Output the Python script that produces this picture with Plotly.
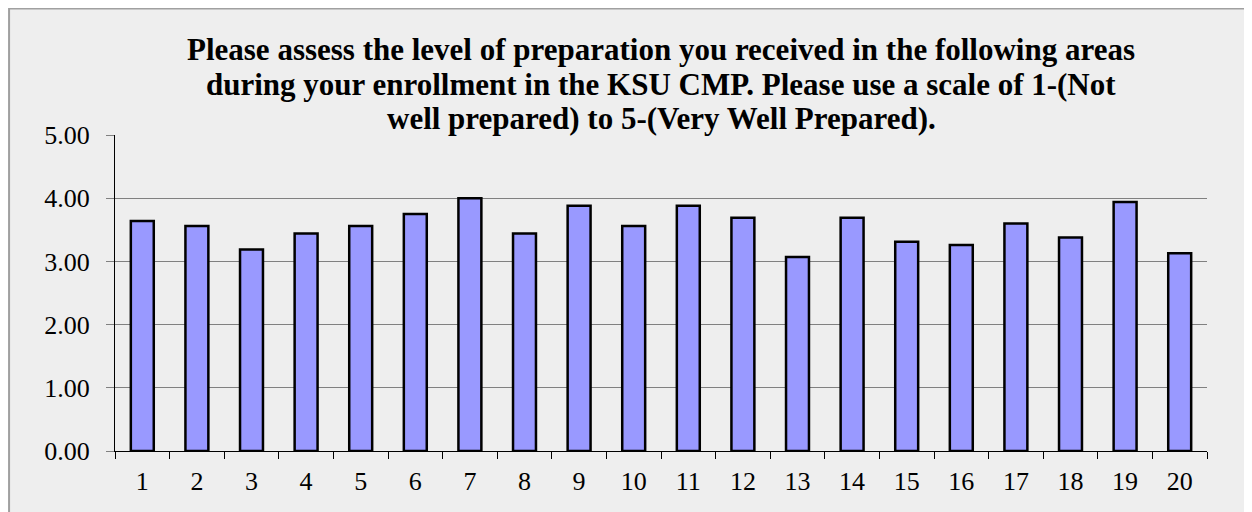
import plotly.graph_objects as go

# survey item numbers and mean ratings
items = [str(i) for i in range(1, 21)]
ratings = [3.64, 3.56, 3.19, 3.44, 3.56, 3.75, 4.00, 3.44, 3.88, 3.56,
           3.88, 3.69, 3.07, 3.69, 3.31, 3.26, 3.60, 3.38, 3.94, 3.13]
y_ticks = [0, 1, 2, 3, 4, 5]

title_lines = [
    "Please assess the level of preparation you received in the following areas",
    "during your enrollment in the KSU CMP. Please use a scale of 1-(Not",
    "well prepared) to 5-(Very Well Prepared).",
]
title_y = [1.272, 1.161, 1.052]

serif = "Liberation Serif, Times New Roman, serif"

fig = go.Figure()
fig.add_trace(
    go.Bar(
        x=items,
        y=ratings,
        marker=dict(color="#9999FF", line=dict(color="#000000", width=2.5)),
        showlegend=False,
    )
)

# chart area border (Excel-style grey frame)
fig.add_shape(
    type="rect", xref="paper", yref="paper",
    x0=-0.097, x1=1.08, y0=-0.25, y1=1.40,
    line=dict(color="#A0A0A0", width=2),
    layer="below",
)

for line, ypos in zip(title_lines, title_y):
    fig.add_annotation(
        text=f"<b>{line}</b>",
        xref="paper", yref="paper", x=0.5, y=ypos,
        xanchor="center", yanchor="middle",
        showarrow=False,
        font=dict(family=serif, size=31, color="#000000"),
    )

fig.update_layout(
    width=1252,
    height=512,
    margin=dict(l=107, r=53, t=127, b=69, pad=0),
    paper_bgcolor="#EEEEEE",
    plot_bgcolor="rgba(0,0,0,0)",
    bargap=0.58,
    font=dict(family=serif, size=26, color="#000000"),
    xaxis=dict(
        type="category",
        tickson="boundaries",
        ticks="outside",
        ticklen=7,
        tickcolor="#000000",
        showline=True,
        linecolor="#000000",
        linewidth=1,
        showgrid=False,
        ticklabelstandoff=7,
    ),
    yaxis=dict(
        range=[0, 5],
        tickvals=y_ticks,
        tickformat=".2f",
        ticks="outside",
        ticklen=8,
        tickcolor="#808080",
        showline=True,
        linecolor="#000000",
        linewidth=1,
        gridcolor="#808080",
        gridwidth=1,
        zeroline=False,
        ticklabelstandoff=11,
    ),
)

fig.write_html("out.html")
